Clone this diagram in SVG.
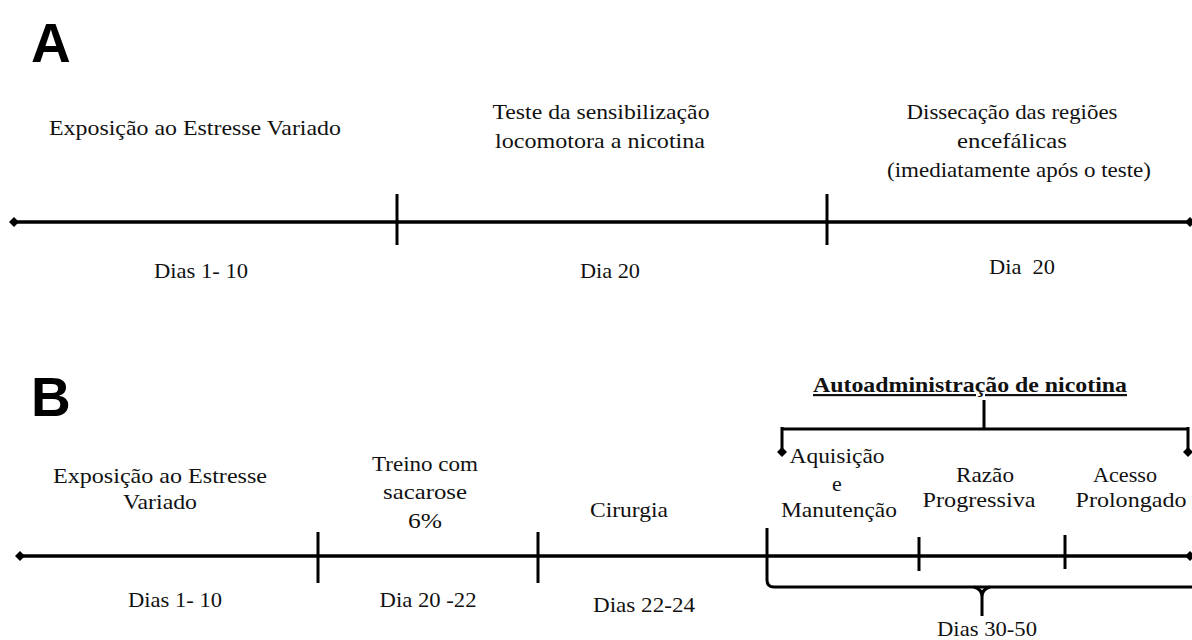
<svg xmlns="http://www.w3.org/2000/svg" width="1192" height="640" viewBox="0 0 1192 640">
<style>
.t{font-family:"Liberation Serif","Times New Roman",serif;font-size:22px;fill:#111;text-anchor:middle}
.h{font-family:"Liberation Sans",Arial,sans-serif;font-weight:bold;font-size:55px;fill:#000}
.ln{stroke:#000;stroke-width:3.5;fill:none}
.tk{stroke:#000;stroke-width:3;fill:none}
</style>
<defs>
<path id="dm" d="M0,-5 L5,0 L0,5 L-5,0 Z" fill="#000"/>
</defs>
<rect width="1192" height="640" fill="#fff"/>

<g id="panelA">
<text id="labelA" class="h" x="31" y="62">A</text>
</g>
<g id="panelB">
<text id="labelB" class="h" x="31" y="416">B</text>
</g>

<g id="connectors">
<line class="ln" x1="14" y1="222" x2="1192" y2="222"/>
<use href="#dm" x="14" y="222"/>
<use href="#dm" x="1190" y="222"/>
<line class="tk" x1="397" y1="194" x2="397" y2="245"/>
<line class="tk" x1="827" y1="194" x2="827" y2="245"/>

<line class="ln" x1="20" y1="556" x2="1192" y2="556"/>
<use href="#dm" x="20" y="556"/>
<use href="#dm" x="1190" y="556"/>
<line class="tk" x1="318" y1="532" x2="318" y2="583"/>
<line class="tk" x1="538" y1="532" x2="538" y2="583"/>
<line class="tk" x1="767" y1="528" x2="767" y2="560"/>
<line class="tk" x1="919" y1="537" x2="919" y2="571"/>
<line class="tk" x1="1065" y1="535" x2="1065" y2="569"/>
<path class="tk" d="M767,560 L767,580 Q767,587 774,587 L1192,587"/>
<path class="tk" d="M974,587 Q982,589 982,597 L982,616 M990,587 Q982,589 982,597"/>

<path class="tk" d="M984,400 L984,429 M782,429 L1188,429 M782,427 L782,452 M1188,427 L1188,452"/>
<use href="#dm" x="782" y="452"/>
<use href="#dm" x="1188" y="452"/>
</g>

<g id="node-a1"><text class="t" x="195" y="135" textLength="292" lengthAdjust="spacingAndGlyphs">Exposição ao Estresse Variado</text></g>
<g id="node-a2"><text class="t" x="601" y="119" textLength="217" lengthAdjust="spacingAndGlyphs">Teste da sensibilização</text><text class="t" x="600" y="148" textLength="210" lengthAdjust="spacingAndGlyphs">locomotora a nicotina</text></g>
<g id="node-a3"><text class="t" x="1012" y="119" textLength="211" lengthAdjust="spacingAndGlyphs">Dissecação das regiões</text><text class="t" x="1012" y="148" textLength="110" lengthAdjust="spacingAndGlyphs">encefálicas</text><text class="t" x="1019" y="177" textLength="264" lengthAdjust="spacingAndGlyphs">(imediatamente após o teste)</text></g>
<g id="node-a4"><text class="t" x="201" y="278" textLength="94" lengthAdjust="spacingAndGlyphs">Dias 1- 10</text></g>
<g id="node-a5"><text class="t" x="610" y="278" textLength="60" lengthAdjust="spacingAndGlyphs">Dia 20</text></g>
<g id="node-a6"><text class="t" x="1022" y="274" xml:space="preserve" textLength="66" lengthAdjust="spacingAndGlyphs">Dia  20</text></g>

<g id="node-b1"><text class="t" x="160" y="483" textLength="214" lengthAdjust="spacingAndGlyphs">Exposição ao Estresse</text><text class="t" x="160" y="509" textLength="74" lengthAdjust="spacingAndGlyphs">Variado</text></g>
<g id="node-b2"><text class="t" x="425" y="471" textLength="106" lengthAdjust="spacingAndGlyphs">Treino com</text><text class="t" x="425" y="499" textLength="84" lengthAdjust="spacingAndGlyphs">sacarose</text><text class="t" x="425" y="528" textLength="34" lengthAdjust="spacingAndGlyphs">6%</text></g>
<g id="node-b3"><text class="t" x="629" y="517" textLength="78" lengthAdjust="spacingAndGlyphs">Cirurgia</text></g>
<g id="node-b4"><text class="t" x="970" y="392" font-weight="bold" text-decoration="underline" textLength="314" lengthAdjust="spacingAndGlyphs">Autoadministração de nicotina</text></g>
<g id="node-b5"><text class="t" x="837" y="463" textLength="95" lengthAdjust="spacingAndGlyphs">Aquisição</text><text class="t" x="837" y="491">e</text><text class="t" x="839" y="517" textLength="116" lengthAdjust="spacingAndGlyphs">Manutenção</text></g>
<g id="node-b6"><text class="t" x="985" y="482" textLength="58" lengthAdjust="spacingAndGlyphs">Razão</text><text class="t" x="979" y="507" textLength="113" lengthAdjust="spacingAndGlyphs">Progressiva</text></g>
<g id="node-b7"><text class="t" x="1125" y="482" textLength="64" lengthAdjust="spacingAndGlyphs">Acesso</text><text class="t" x="1131" y="507" textLength="111" lengthAdjust="spacingAndGlyphs">Prolongado</text></g>
<g id="node-b8"><text class="t" x="175" y="607" textLength="94" lengthAdjust="spacingAndGlyphs">Dias 1- 10</text></g>
<g id="node-b9"><text class="t" x="428" y="607" textLength="97" lengthAdjust="spacingAndGlyphs">Dia 20 -22</text></g>
<g id="node-b10"><text class="t" x="644" y="612" textLength="102" lengthAdjust="spacingAndGlyphs">Dias 22-24</text></g>
<g id="node-b11"><text class="t" x="987" y="636" textLength="100" lengthAdjust="spacingAndGlyphs">Dias 30-50</text></g>
</svg>
